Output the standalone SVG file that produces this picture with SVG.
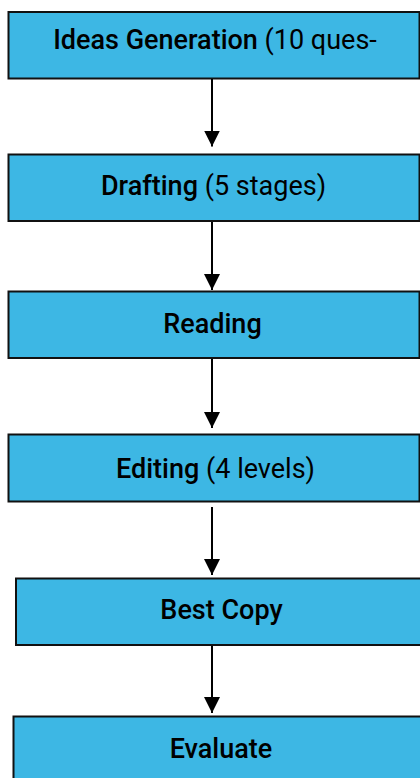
<svg xmlns="http://www.w3.org/2000/svg" width="420" height="778" viewBox="0 0 420 778">
  <style>
    .box { fill: #3db7e4; stroke: #111; stroke-width: 2; }
    .lbl { font-family: Roboto, "Liberation Sans", sans-serif; font-size: 27px; fill: #000; text-anchor: middle; }
    .b { font-weight: 500; }
    .r { font-weight: 400; }
    .conn { stroke: #000; stroke-width: 2; fill: none; }
  </style>
  <defs>
    <marker id="arr" markerUnits="userSpaceOnUse" markerWidth="16" markerHeight="17" refX="16" refY="8" orient="auto">
      <path d="M0,0 L16,8 L0,16 Z" fill="#000"/>
    </marker>
  </defs>
  <rect width="420" height="778" fill="#fff"/>
  <g id="n1">
    <rect class="box" x="8.5" y="12" width="411" height="66.5"/>
    <text class="lbl" x="215" y="49"><tspan class="b">Ideas Generation</tspan><tspan class="r"> (10 ques-</tspan></text>
  </g>
  <g id="n2">
    <rect class="box" x="8.5" y="154.5" width="411" height="66.5"/>
    <text class="lbl" x="213.5" y="195"><tspan class="b">Drafting</tspan><tspan class="r"> (5 stages)</tspan></text>
  </g>
  <g id="n3">
    <rect class="box" x="8.5" y="291.5" width="411" height="66.5"/>
    <text class="lbl b" x="212.5" y="332.5">Reading</text>
  </g>
  <g id="n4">
    <rect class="box" x="8.5" y="434.5" width="411" height="67"/>
    <text class="lbl" x="215.5" y="477.5"><tspan class="b">Editing</tspan><tspan class="r"> (4 levels)</tspan></text>
  </g>
  <g id="n5">
    <rect class="box" x="16" y="578.5" width="410" height="66.5"/>
    <text class="lbl b" x="221.5" y="618.5">Best Copy</text>
  </g>
  <g id="n6">
    <rect class="box" x="13.5" y="716.5" width="412" height="70"/>
    <text class="lbl b" x="221" y="757.5">Evaluate</text>
  </g>
  <g id="connectors">
    <line class="conn" x1="212" y1="79" x2="212" y2="146.5" marker-end="url(#arr)"/>
    <line class="conn" x1="212" y1="222" x2="212" y2="290" marker-end="url(#arr)"/>
    <line class="conn" x1="212" y1="359" x2="212" y2="428" marker-end="url(#arr)"/>
    <line class="conn" x1="212" y1="507" x2="212" y2="575" marker-end="url(#arr)"/>
    <line class="conn" x1="212" y1="646" x2="212" y2="713" marker-end="url(#arr)"/>
  </g>
</svg>
